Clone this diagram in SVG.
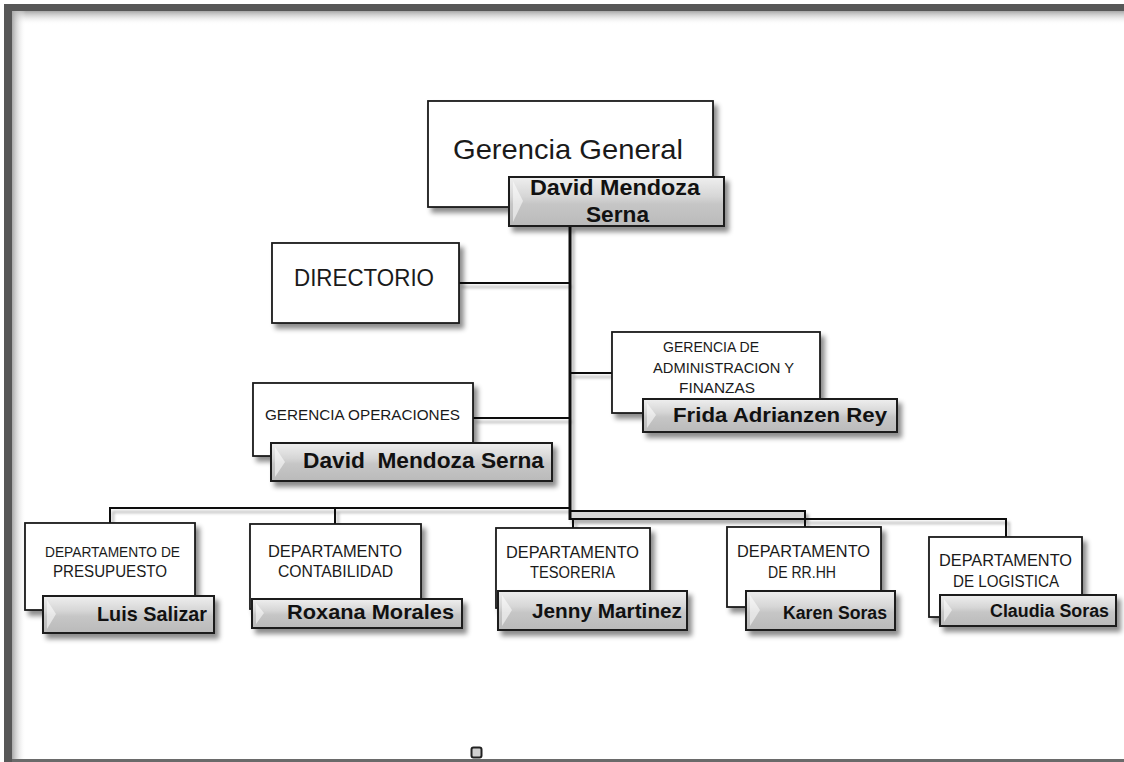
<svg xmlns="http://www.w3.org/2000/svg" width="1124" height="762" viewBox="0 0 1124 762">
<style>
.box{fill:#ffffff;stroke:#1a1a1a;stroke-width:1.8;filter:url(#sh)}
.nb{fill:url(#ng);stroke:#1a1a1a;stroke-width:2;filter:url(#sh)}
.bev{fill:#ffffff;opacity:0.55}
.t{font-family:"Liberation Sans",Arial,sans-serif;fill:#1a1a1a}
.n{font-family:"Liberation Sans",Arial,sans-serif;font-weight:bold;fill:#111111;white-space:pre}
.ln{stroke:#111111;stroke-width:2;fill:none}
</style>
<defs>
<filter id="sh" x="-10%" y="-20%" width="130%" height="160%">
<feDropShadow dx="4" dy="5" stdDeviation="2.5" flood-color="#000" flood-opacity="0.45"/>
</filter>
<filter id="lsh" x="-5%" y="-5%" width="110%" height="110%">
<feDropShadow dx="3" dy="4" stdDeviation="1.5" flood-color="#000" flood-opacity="0.3"/>
</filter>
<linearGradient id="ng" x1="0" y1="0" x2="0" y2="1">
<stop offset="0" stop-color="#efefef"/>
<stop offset="0.4" stop-color="#d6d6d6"/>
<stop offset="0.55" stop-color="#c6c6c6"/>
<stop offset="1" stop-color="#bababa"/>
</linearGradient>
<linearGradient id="tg" x1="0" y1="0" x2="0" y2="1">
<stop offset="0" stop-color="#a8a8a8"/>
<stop offset="1" stop-color="#ffffff" stop-opacity="0"/>
</linearGradient>
<linearGradient id="lg" x1="0" y1="0" x2="1" y2="0">
<stop offset="0" stop-color="#a8a8a8"/>
<stop offset="1" stop-color="#ffffff" stop-opacity="0"/>
</linearGradient>
</defs>
<rect x="0" y="0" width="1124" height="762" fill="#ffffff"/>
<g id="frame">
<rect x="12" y="11" width="1112" height="14" fill="url(#tg)"/>
<rect x="12" y="11" width="14" height="751" fill="url(#lg)"/>
<rect x="4" y="4" width="1120" height="7" fill="#575757"/>
<rect x="4" y="4" width="8" height="758" fill="#575757"/>
<rect x="12" y="759" width="1112" height="3" fill="#6a6a6a"/>
<rect x="471.5" y="747.5" width="10" height="10" rx="2" fill="#d0d0d0" stroke="#222" stroke-width="2"/>
</g>
<g id="connectors" filter="url(#lsh)">
<rect x="571" y="512" width="233" height="6" fill="#d8d8d8"/>
<line class="ln" x1="459" y1="283" x2="570" y2="283"/>
<line class="ln" x1="570" y1="373" x2="612" y2="373"/>
<line class="ln" x1="473" y1="418" x2="570" y2="418"/>
<polyline class="ln" points="110,523 110,508 570,508"/>
<line class="ln" x1="335" y1="508" x2="335" y2="524"/>
<polyline class="ln" points="570,511 805,511 805,527"/>
<polyline class="ln" points="570,519 1006,519 1006,537"/>
<line class="ln" x1="573" y1="519" x2="573" y2="528"/>
<line x1="570" y1="226" x2="570" y2="520" stroke="#111" stroke-width="3"/>
</g>
<g id="gerencia-general">
<rect class="box" x="428" y="101" width="285" height="106"/>
<text class="t" x="453" y="159" font-size="28" textLength="230" lengthAdjust="spacingAndGlyphs">Gerencia General</text>
<rect class="nb" x="509" y="177" width="215" height="49"/>
<polygon class="bev" points="513,181 523,201 513,222"/>
<text class="n" x="530" y="195" font-size="22" textLength="170" lengthAdjust="spacingAndGlyphs">David Mendoza</text>
<text class="n" x="586" y="222" font-size="22" textLength="63" lengthAdjust="spacingAndGlyphs">Serna</text>
</g>
<g id="directorio">
<rect class="box" x="272" y="243" width="187" height="80"/>
<text class="t" x="294" y="286" font-size="23" textLength="140" lengthAdjust="spacingAndGlyphs">DIRECTORIO</text>
</g>
<g id="gerencia-administracion">
<rect class="box" x="612" y="332" width="208" height="81"/>
<text class="t" x="663" y="352" font-size="15" textLength="96" lengthAdjust="spacingAndGlyphs">GERENCIA DE</text>
<text class="t" x="653" y="373" font-size="15" textLength="141" lengthAdjust="spacingAndGlyphs">ADMINISTRACION Y</text>
<text class="t" x="679" y="393" font-size="15" textLength="76" lengthAdjust="spacingAndGlyphs">FINANZAS</text>
<rect class="nb" x="643" y="399" width="254" height="33"/>
<polygon class="bev" points="647,403 656,415 647,428"/>
<text class="n" x="673" y="422" font-size="21" textLength="214" lengthAdjust="spacingAndGlyphs">Frida Adrianzen Rey</text>
</g>
<g id="gerencia-operaciones">
<rect class="box" x="253" y="383" width="220" height="73"/>
<text class="t" x="265" y="420" font-size="15" textLength="195" lengthAdjust="spacingAndGlyphs">GERENCIA OPERACIONES</text>
<rect class="nb" x="271" y="443" width="281" height="38"/>
<polygon class="bev" points="275,447 285,462 275,477"/>
<text class="n" x="303" y="468" font-size="22" textLength="241" lengthAdjust="spacingAndGlyphs">David  Mendoza Serna</text>
</g>
<g id="dep-presupuesto">
<rect class="box" x="25" y="523" width="170" height="87"/>
<text class="t" x="45" y="557" font-size="14" textLength="135" lengthAdjust="spacingAndGlyphs">DEPARTAMENTO DE</text>
<text class="t" x="53" y="577" font-size="16" textLength="114" lengthAdjust="spacingAndGlyphs">PRESUPUESTO</text>
<rect class="nb" x="43" y="596" width="171" height="37"/>
<polygon class="bev" points="47,600 56,614 47,629"/>
<text class="n" x="97" y="621" font-size="21" textLength="110" lengthAdjust="spacingAndGlyphs">Luis Salizar</text>
</g>
<g id="dep-contabilidad">
<rect class="box" x="250" y="524" width="171" height="85"/>
<text class="t" x="268" y="557" font-size="16" textLength="134" lengthAdjust="spacingAndGlyphs">DEPARTAMENTO</text>
<text class="t" x="278" y="577" font-size="16" textLength="115" lengthAdjust="spacingAndGlyphs">CONTABILIDAD</text>
<rect class="nb" x="252" y="599" width="210" height="29"/>
<polygon class="bev" points="256,603 264,613 256,624"/>
<text class="n" x="287" y="619" font-size="21" textLength="167" lengthAdjust="spacingAndGlyphs">Roxana Morales</text>
</g>
<g id="dep-tesoreria">
<rect class="box" x="496" y="528" width="154" height="80"/>
<text class="t" x="506" y="558" font-size="16" textLength="133" lengthAdjust="spacingAndGlyphs">DEPARTAMENTO</text>
<text class="t" x="530" y="578" font-size="16" textLength="85" lengthAdjust="spacingAndGlyphs">TESORERIA</text>
<rect class="nb" x="498" y="591" width="189" height="39"/>
<polygon class="bev" points="502,595 512,610 502,626"/>
<text class="n" x="532" y="618" font-size="20" textLength="150" lengthAdjust="spacingAndGlyphs">Jenny Martinez</text>
</g>
<g id="dep-rrhh">
<rect class="box" x="727" y="527" width="154" height="80"/>
<text class="t" x="737" y="557" font-size="16" textLength="133" lengthAdjust="spacingAndGlyphs">DEPARTAMENTO</text>
<text class="t" x="768" y="578" font-size="16" textLength="68" lengthAdjust="spacingAndGlyphs">DE RR.HH</text>
<rect class="nb" x="746" y="591" width="149" height="39"/>
<polygon class="bev" points="750,595 760,610 750,626"/>
<text class="n" x="783" y="619" font-size="18" textLength="104" lengthAdjust="spacingAndGlyphs">Karen Soras</text>
</g>
<g id="dep-logistica">
<rect class="box" x="929" y="537" width="153" height="80"/>
<text class="t" x="939" y="566" font-size="16" textLength="133" lengthAdjust="spacingAndGlyphs">DEPARTAMENTO</text>
<text class="t" x="953" y="587" font-size="16" textLength="106" lengthAdjust="spacingAndGlyphs">DE LOGISTICA</text>
<rect class="nb" x="940" y="595" width="176" height="31"/>
<polygon class="bev" points="944,599 952,610 944,622"/>
<text class="n" x="990" y="617" font-size="18" textLength="119" lengthAdjust="spacingAndGlyphs">Claudia Soras</text>
</g>
</svg>
